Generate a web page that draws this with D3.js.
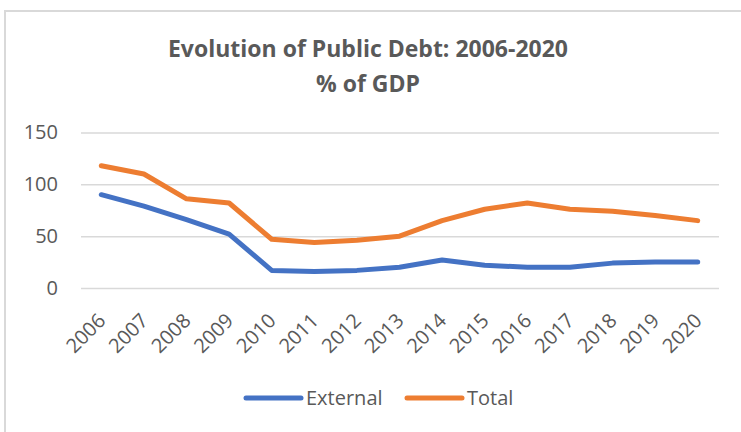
<!DOCTYPE html>
<html>
<head>
<meta charset="utf-8">
<script src="https://cdn.jsdelivr.net/npm/d3@7/dist/d3.min.js"></script>
<style>
  html, body { margin: 0; padding: 0; background: #fff; }
  svg { display: block; }
  text { font-family: "Open Sans", "Noto Sans", sans-serif; fill: #595959; }
</style>
</head>
<body>
<svg id="chart" width="741" height="432"></svg>
<script>
// Public debt as a share of GDP, 2006-2020
const years = ["2006","2007","2008","2009","2010","2011","2012","2013","2014","2015","2016","2017","2018","2019","2020"];
const externalDebt = [90, 79, 66, 52, 17, 16, 17, 20, 27, 22, 20, 20, 24, 25, 25];
const totalDebt    = [118, 110, 86, 82, 47, 44, 46, 50, 65, 76, 82, 76, 74, 70, 65];
const yTicks = [0, 50, 100, 150];
const seriesNames = ["External", "Total"];
const seriesColors = ["#4472c4", "#ed7d31"];
const titleLines = ["Evolution of Public Debt: 2006-2020", "% of GDP"];

const svg = d3.select("#chart");

// chart frame
svg.append("rect")
  .attr("x", 5).attr("y", 11)
  .attr("width", 760).attr("height", 440)
  .attr("fill", "none")
  .attr("stroke", "#d9d9d9")
  .attr("stroke-width", 2);

const x = d3.scalePoint().domain(years).range([80, 719]).padding(0.5);
const y = d3.scaleLinear().domain([0, 150]).range([288, 132.5]);

// title
svg.append("g").selectAll("text")
  .data(titleLines)
  .join("text")
  .attr("x", 368)
  .attr("y", (d, i) => 57 + i * 35)
  .attr("text-anchor", "middle")
  .attr("font-size", 23)
  .attr("font-weight", 700)
  .text(d => d);

// horizontal gridlines + y labels
const yAxis = d3.axisLeft(y).tickValues(yTicks).tickSize(-(719 - 81)).tickPadding(23);
const gy = svg.append("g").attr("transform", "translate(81,0)").call(yAxis);
gy.select(".domain").remove();
gy.selectAll(".tick line").attr("stroke", "#d9d9d9").attr("stroke-width", 1.5);
gy.selectAll(".tick text")
  .attr("font-size", 20)
  .attr("font-family", "'Open Sans', sans-serif")
  .attr("fill", "#595959");

// x labels, rotated
const xAxis = d3.axisBottom(x).tickSize(0).tickPadding(0);
const gx = svg.append("g").attr("transform", "translate(0,288)").call(xAxis);
gx.select(".domain").remove();
gx.selectAll(".tick text")
  .attr("font-size", 20)
  .attr("font-family", "'Open Sans', sans-serif")
  .attr("fill", "#595959")
  .attr("text-anchor", "end")
  .attr("dy", null)
  .attr("y", 0)
  .attr("transform", "translate(5,34) rotate(-45)");

// series lines
const line = d3.line().x((d, i) => x(years[i])).y(d => y(d));
const series = [externalDebt, totalDebt];
svg.append("g").selectAll("path")
  .data(series)
  .join("path")
  .attr("d", d => line(d))
  .attr("fill", "none")
  .attr("stroke", (d, i) => seriesColors[i])
  .attr("stroke-width", 5)
  .attr("stroke-linejoin", "round")
  .attr("stroke-linecap", "round");

// legend
const legendX = [246, 407];
const lg = svg.append("g").selectAll("g")
  .data(seriesNames)
  .join("g")
  .attr("transform", (d, i) => `translate(${legendX[i]},398)`);
lg.append("line")
  .attr("x1", 0).attr("x2", 55)
  .attr("stroke", (d, i) => seriesColors[i])
  .attr("stroke-width", 5)
  .attr("stroke-linecap", "round");
lg.append("text")
  .attr("x", 60).attr("y", 7)
  .attr("font-size", 20)
  .text(d => d);
</script>
</body>
</html>
